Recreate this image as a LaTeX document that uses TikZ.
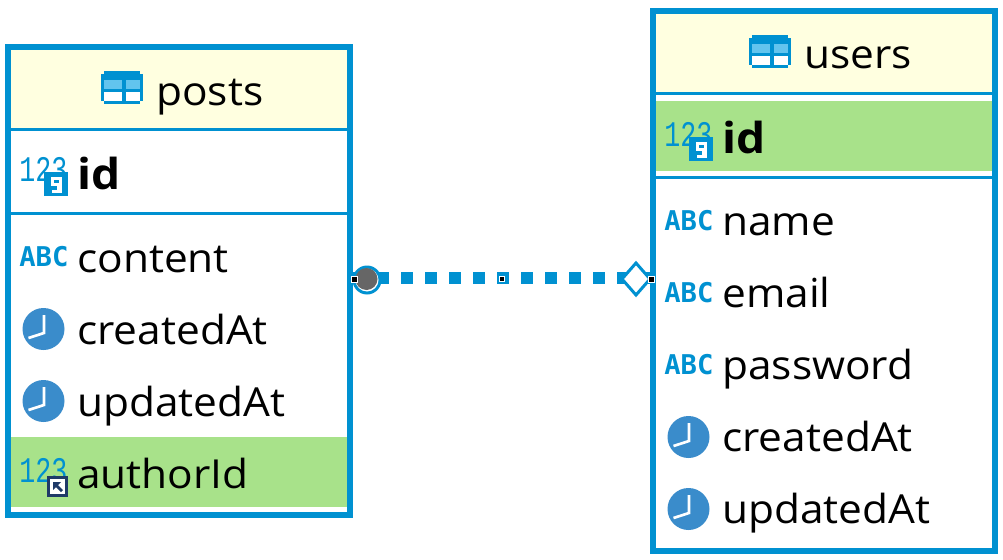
\documentclass[tikz,border=0pt]{standalone}
\usepackage{fontspec}
\setmainfont{Open Sans}[FakeStretch=1.06,BoldFeatures={FakeStretch=1.08}]
\newfontfamily\numfont{Liberation Mono}
\newfontfamily\abcfont{DejaVu Sans Mono}
\definecolor{erblue}{HTML}{0091D1}
\definecolor{erlight}{HTML}{62C4EE}
\definecolor{ergreen}{HTML}{A8E28A}
\definecolor{erhead}{HTML}{FFFFE0}
\definecolor{erclock}{HTML}{3A8CCB}
\definecolor{ergray}{HTML}{666666}
\definecolor{ernavy}{HTML}{1F3A68}
\usetikzlibrary{shapes.geometric}
\tikzset{
  x=0.75pt,y=-0.75pt,
  tablebox/.style={draw=erblue,line width=4.5pt,inner sep=0pt,outer sep=0pt},
  sepline/.style={draw=erblue,line width=2.25pt},
  rowtext/.style={anchor=base west,inner sep=0pt,font=\fontsize{30}{32}\selectfont,text=black},
  boldtext/.style={rowtext,font=\fontsize{32}{34}\selectfont\bfseries},
  numtext/.style={inner sep=0pt,anchor=base west,text=erblue,font=\fontsize{20}{24}\numfont},
  abctext/.style={inner sep=0pt,anchor=base west,text=erblue,font=\fontsize{20.4}{24}\abcfont\bfseries},
  fkline/.style={draw=erblue,line width=9pt,dash pattern=on 9pt off 9pt},
  handle/.style={draw=white,fill=black,line width=0.75pt,minimum size=4.5pt,inner sep=0pt,outer sep=0pt},
  midhandle/.style={draw=white,fill=black,line width=0.75pt,minimum size=3.4pt,inner sep=0pt,outer sep=0pt},
  optend/.style={diamond,draw=erblue,fill=white,line width=2.25pt,minimum width=21pt,minimum height=24pt,inner sep=0pt,outer sep=0pt},
}
% table icon: top-left corner
\newcommand{\icontable}[2]{%
  \begin{scope}[shift={(#1,#2)}]
    \fill[erblue] (3,0) rectangle (39,9);
    \fill[erblue] (0,3) rectangle (42,30);
    \fill[erblue] (3,30) rectangle (39,33);
    \fill[white] (3,21) rectangle (21,30);
    \fill[white] (25,21) rectangle (39,30);
    \fill[erlight] (3,9) rectangle (21,18);
    \fill[erlight] (25,9) rectangle (39,18);
  \end{scope}}
% 123 text: left edge, baseline
\newcommand{\iconnum}[2]{\node[numtext] at (#1-1,#2) {\hbox to 36pt{\scalebox{1}[1.35]{123}\hss}};}
\newcommand{\iconabc}[2]{\node[abctext] at (#1-1,#2) {\hbox to 36pt{ABC\hss}};}
% key badge: top-left corner
\newcommand{\iconkey}[2]{%
  \begin{scope}[shift={(#1,#2)}]
    \fill[erblue] (0,0) rectangle (24,24);
    \fill[white] (7,5) rectangle (18,14);
    \fill[white] (13,14) rectangle (18,21);
    \fill[white] (8,18) rectangle (13,21);
    \fill[erblue] (10,8) rectangle (15,11);
  \end{scope}}
% foreign-key badge: top-left corner
\newcommand{\iconfk}[2]{%
  \begin{scope}[shift={(#1,#2)}]
    \fill[ernavy] (0,0) rectangle (21,21);
    \fill[white] (3,3) rectangle (18,18);
    \fill[ernavy] (6,6) -- (14,6) -- (11,9) -- (16,14) -- (14,16) -- (9,11) -- (6,14) -- cycle;
  \end{scope}}
% clock: centre
\newcommand{\iconclock}[2]{%
  \begin{scope}[shift={(#1,#2)}]
    \fill[erclock] (0,0) circle[radius=21];
    \draw[white,line width=2pt] (0.5,-14) -- (0.5,4) -- (-15,9);
  \end{scope}}
\begin{document}
\begin{tikzpicture}
\useasboundingbox (0,0) rectangle (1003,560);
\fill[white] (0,0) rectangle (1003,560);
% ---------- posts
\fill[erhead] (11,50) rectangle (347,128);
\fill[ergreen] (11,437) rectangle (347,507);
\draw[sepline] (11,129.5) -- (347,129.5);
\draw[sepline] (11,213.5) -- (347,213.5);
\node[tablebox,minimum width=256.5pt,minimum height=351pt] (posts) at (179,281) {};
\icontable{101}{71}
\node[rowtext] (ptitle) at (156,105) {posts};
\iconnum{20}{181}\iconkey{44}{172}
\node[boldtext] (pid) at (77,189) {id};
\iconabc{20}{266}
\node[rowtext] (pcontent) at (77,272) {content};
\iconclock{43.5}{329}
\node[rowtext] (pcreated) at (77,344) {createdAt};
\iconclock{43.5}{401}
\node[rowtext] (pupdated) at (77,416) {updatedAt};
\iconnum{20}{482}\iconfk{47}{476}
\node[rowtext] (pauthor) at (77,488) {authorId};
% ---------- users
\fill[erhead] (656,14) rectangle (992,92);
\fill[ergreen] (656,101) rectangle (992,171);
\draw[sepline] (656,93.5) -- (992,93.5);
\draw[sepline] (656,177.5) -- (992,177.5);
\node[tablebox,minimum width=256.5pt,minimum height=405pt] (users) at (824,281) {};
\icontable{749}{35}
\node[rowtext] (utitle) at (804,69) {users};
\iconnum{665}{146}\iconkey{689}{137}
\node[boldtext] (uid) at (722,153) {id};
\iconabc{665}{230}
\node[rowtext] (uname) at (722,235) {name};
\iconabc{665}{302}
\node[rowtext] (uemail) at (722,307) {email};
\iconabc{665}{374}
\node[rowtext] (upass) at (722,379) {password};
\iconclock{688.5}{437}
\node[rowtext] (ucreated) at (722,451) {createdAt};
\iconclock{688.5}{509}
\node[rowtext] (uupdated) at (722,523) {updatedAt};
% ---------- connector
\coordinate (fkstart) at (353,278);
\coordinate (fkend) at (650,278);
\draw[fkline] (fkstart) -- (fkend);
\node[midhandle] (mid) at (502,279) {};
\node[optend] (dia) at (636,279) {};
\fill[erblue] (367,280) circle[radius=14.5];
\fill[white] (367,280) circle[radius=11.5];
\node[circle,fill=ergray,minimum size=16.5pt,inner sep=0pt,outer sep=0pt] (dot) at (366.5,279) {};
\node[handle] (h1) at (354,279) {};
\node[handle] (h2) at (651,279) {};
\end{tikzpicture}
\end{document}
